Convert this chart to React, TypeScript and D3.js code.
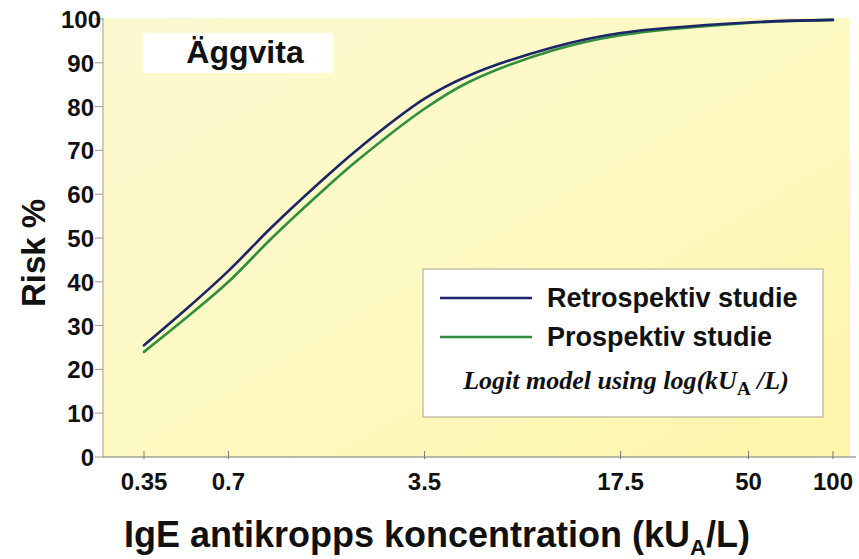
import React, { useEffect, useRef } from 'react';
import * as d3 from 'd3';

// IgE concentration (kUA/L) and risk %
const concentrations = [0.35, 0.5, 0.7, 1.0, 1.5, 2, 3.5, 5, 10, 17.5, 50, 100];
const retrospektiv = [25.5, 34, 42.5, 52.5, 63, 70, 81.8, 87, 93.5, 96.8, 99.2, 99.8];
const prospektiv = [24, 32, 40, 50, 60.5, 67.5, 79.5, 85.5, 92.8, 96.3, 99.1, 99.8];

const xTicks = [0.35, 0.7, 3.5, 17.5, 50, 100];
const xTickLabels = ['0.35', '0.7', '3.5', '17.5', '50', '100'];
const yTicks = [0, 10, 20, 30, 40, 50, 60, 70, 80, 90, 100];

const series = [
  { name: 'Retrospektiv studie', values: retrospektiv, color: '#1d2569' },
  { name: 'Prospektiv studie', values: prospektiv, color: '#2f8f3c' },
];

const W = 859;
const H = 559;
const sans = '"Liberation Sans", Arial, Helvetica, sans-serif';
const serif = '"Liberation Serif", "Times New Roman", serif';

function Chart() {
  const node = useRef<SVGSVGElement>(null);

  useEffect(() => {
    const svg = d3.select(node.current);
    svg.selectAll('*').remove();

    const left = 103, right = 850, top = 19, bottom = 457;

    const x = d3.scaleLog().domain([0.25, 115]).range([left, right]);
    const y = d3.scaleLinear().domain([0, 100]).range([bottom, top]);

    const defs = svg.append('defs');
    const grad = defs.append('linearGradient')
      .attr('id', 'bg')
      .attr('x1', '0%').attr('y1', '0%')
      .attr('x2', '100%').attr('y2', '100%');
    grad.append('stop').attr('offset', '0%').attr('stop-color', '#fcf9d2');
    grad.append('stop').attr('offset', '50%').attr('stop-color', '#fdf9c2');
    grad.append('stop').attr('offset', '100%').attr('stop-color', '#fdf5aa');

    svg.append('rect')
      .attr('width', W).attr('height', H)
      .attr('fill', '#ffffff');

    svg.append('rect')
      .attr('x', left).attr('y', top - 1)
      .attr('width', right - left).attr('height', bottom - top + 1)
      .attr('fill', 'url(#bg)');

    // title box
    svg.append('rect')
      .attr('x', 143).attr('y', 33)
      .attr('width', 190).attr('height', 40)
      .attr('rx', 3)
      .attr('fill', '#ffffff');
    svg.append('text')
      .attr('x', 245).attr('y', 63)
      .attr('text-anchor', 'middle')
      .attr('font-family', sans)
      .attr('font-weight', 'bold')
      .attr('font-size', 32)
      .attr('fill', '#111')
      .text('Äggvita');

    // y axis
    svg.append('line')
      .attr('x1', left).attr('x2', left)
      .attr('y1', top - 1).attr('y2', bottom)
      .attr('stroke', '#b9ad7c').attr('stroke-width', 1.2);

    const yAxis = svg.append('g');
    yAxis.selectAll('line')
      .data(yTicks)
      .enter()
      .append('line')
      .attr('x1', left - 8).attr('x2', left)
      .attr('y1', d => y(d)).attr('y2', d => y(d))
      .attr('stroke', '#999').attr('stroke-width', 1);
    yAxis.selectAll('text')
      .data(yTicks)
      .enter()
      .append('text')
      .attr('x', d => (d === 100 ? 101 : 94))
      .attr('y', d => y(d) + 9)
      .attr('text-anchor', 'end')
      .attr('font-family', sans)
      .attr('font-weight', 'bold')
      .attr('font-size', 24)
      .attr('fill', '#111')
      .text(d => d);

    svg.append('text')
      .attr('transform', 'translate(45,253) rotate(-90)')
      .attr('text-anchor', 'middle')
      .attr('font-family', sans)
      .attr('font-weight', 'bold')
      .attr('font-size', 33)
      .attr('fill', '#111')
      .text('Risk %');

    // x axis
    svg.append('line')
      .attr('x1', left).attr('x2', 856)
      .attr('y1', bottom).attr('y2', bottom)
      .attr('stroke', '#777').attr('stroke-width', 1.2);

    const xAxis = svg.append('g');
    xAxis.selectAll('line')
      .data(xTicks)
      .enter()
      .append('line')
      .attr('x1', d => x(d)).attr('x2', d => x(d))
      .attr('y1', bottom - 6).attr('y2', bottom + 2)
      .attr('stroke', '#777').attr('stroke-width', 1);
    xAxis.selectAll('text')
      .data(xTicks)
      .enter()
      .append('text')
      .attr('x', d => x(d))
      .attr('y', 490)
      .attr('text-anchor', 'middle')
      .attr('font-family', sans)
      .attr('font-weight', 'bold')
      .attr('font-size', 24)
      .attr('fill', '#111')
      .text((d, i) => xTickLabels[i]);

    const xTitle = svg.append('text')
      .attr('x', 437).attr('y', 547)
      .attr('text-anchor', 'middle')
      .attr('font-family', sans)
      .attr('font-weight', 'bold')
      .attr('font-size', 36)
      .attr('fill', '#111');
    xTitle.append('tspan').text('IgE antikropps koncentration (kU');
    xTitle.append('tspan').attr('font-size', 22).attr('dy', 8).text('A');
    xTitle.append('tspan').attr('dy', -8).text('/L)');

    // curves
    const line = d3.line<number>()
      .x((d, i) => x(concentrations[i]))
      .y(d => y(d))
      .curve(d3.curveCatmullRom.alpha(0.5));

    svg.append('g')
      .selectAll('path')
      .data([series[1], series[0]])
      .enter()
      .append('path')
      .attr('d', d => line(d.values))
      .attr('fill', 'none')
      .attr('stroke', d => d.color)
      .attr('stroke-width', 2.6)
      .attr('stroke-linecap', 'round');

    // legend
    const lg = svg.append('g');
    lg.append('rect')
      .attr('x', 423).attr('y', 269)
      .attr('width', 400).attr('height', 148)
      .attr('fill', '#ffffff')
      .attr('stroke', '#b8b39a').attr('stroke-width', 1.2);

    series.forEach((s, i) => {
      const ly = 298 + i * 39;
      lg.append('line')
        .attr('x1', 440).attr('x2', 532)
        .attr('y1', ly).attr('y2', ly)
        .attr('stroke', s.color).attr('stroke-width', 2.6);
      lg.append('text')
        .attr('x', 547).attr('y', ly + 9)
        .attr('font-family', sans)
        .attr('font-weight', 'bold')
        .attr('font-size', 27)
        .attr('fill', '#111')
        .text(s.name);
    });

    const note = lg.append('text')
      .attr('x', 626).attr('y', 389)
      .attr('text-anchor', 'middle')
      .attr('font-family', serif)
      .attr('font-weight', 'bold')
      .attr('font-style', 'italic')
      .attr('font-size', 26)
      .attr('fill', '#111');
    note.append('tspan').text('Logit model using log(kU');
    note.append('tspan').attr('font-style', 'normal').attr('font-size', 19).attr('dy', 6).text('A');
    note.append('tspan').attr('dy', -6).text(' /L)');
  }, []);

  return (
    <svg
      ref={node}
      width={W}
      height={H}
      style={{ position: 'absolute', left: 0, top: 0 }}
    />
  );
}

export default function App() {
  return <Chart />;
}
